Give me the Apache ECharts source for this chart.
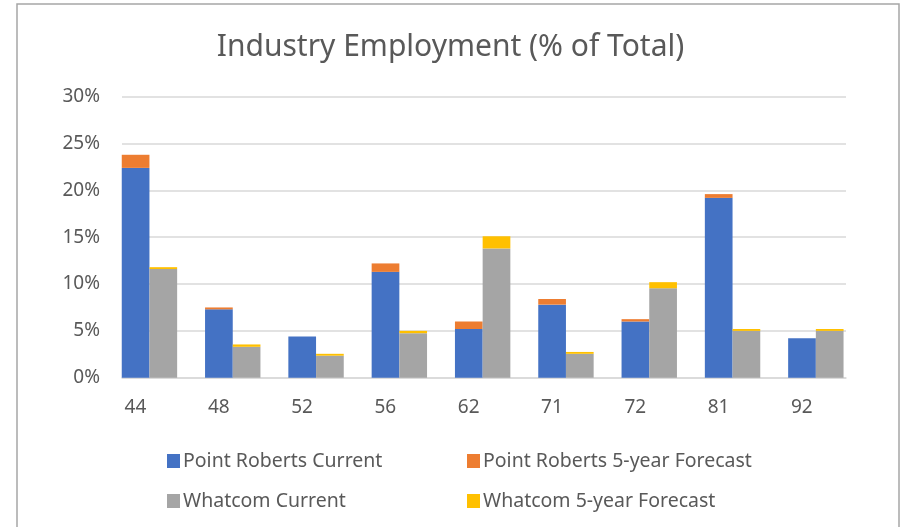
<!DOCTYPE html>
<html>
<head>
<meta charset="utf-8">
<script src="https://cdn.jsdelivr.net/npm/echarts@6/dist/echarts.min.js"></script>
<style>
  html, body { margin: 0; padding: 0; background: #fff; }
  #chart { width: 901px; height: 527px; }
</style>
</head>
<body>
<div id="chart"></div>
<script>
// industry codes (NAICS)
const categories = ['44', '48', '52', '56', '62', '71', '72', '81', '92']
// % of total employment
const prCurrent = [22.4, 7.3, 4.4, 11.3, 5.2, 7.8, 6.0, 19.2, 4.2]
const prForecast = [1.4, 0.2, 0, 0.9, 0.8, 0.6, 0.25, 0.4, 0] // added on top of current
const wcCurrent = [11.6, 3.3, 2.35, 4.75, 13.8, 2.55, 9.55, 5.0, 5.0]
const wcForecast = [0.2, 0.25, 0.2, 0.25, 1.3, 0.2, 0.65, 0.2, 0.2]
const yTicks = { min: 0, max: 30, interval: 5 }

const font = 'Noto Sans'
const textColor = '#595959'

const chart = echarts.init(document.getElementById('chart'))

const barOpts = {
  type: 'bar',
  xAxisIndex: 1,
  yAxisIndex: 1,
  barWidth: 27.7,
  barGap: '0%',
}

// one legend per entry so the two columns line up like Excel's
const legendItem = (name, left, top) => ({
  data: [name],
  left,
  top,
  itemWidth: 13,
  itemHeight: 14,
  itemGap: 0,
  icon: 'rect',
  textStyle: { fontFamily: font, fontSize: 19.5, color: textColor, padding: [0, 0, 0, -2] },
})

const option = {
  animation: false,
  backgroundColor: '#fff',
  title: {
    text: 'Industry Employment (% of Total)',
    left: 'center',
    top: 27,
    textStyle: { fontFamily: font, fontSize: 30, fontWeight: 'normal', color: textColor },
  },
  graphic: [
    {
      type: 'rect',
      shape: { x: 17, y: 4, width: 882, height: 540 },
      style: { fill: 'none', stroke: '#a6a6a6', lineWidth: 1.5 },
      silent: true,
    },
  ],
  legend: [
    legendItem('Point Roberts Current', 162, 446),
    legendItem('Point Roberts 5-year Forecast', 462, 446),
    legendItem('Whatcom Current', 162, 486),
    legendItem('Whatcom 5-year Forecast', 462, 486),
  ],
  grid: [
    // gridlines + y labels
    { left: 122, right: 55, top: 96.7, height: 281 },
    // bars (Excel places groups offset from the gridline area)
    { left: 107.8, right: 43.5, top: 96.7, height: 281 },
  ],
  xAxis: [
    {
      type: 'category',
      gridIndex: 0,
      data: categories,
      axisLine: { lineStyle: { color: '#d9d9d9', width: 1.5 } },
      axisTick: { show: false },
      axisLabel: { show: false },
    },
    {
      type: 'category',
      gridIndex: 1,
      data: categories,
      axisLine: { show: false },
      axisTick: { show: false },
      axisLabel: {
        fontFamily: font,
        fontSize: 19,
        color: textColor,
        margin: 20,
        padding: [0, 28, 0, 0],
      },
    },
  ],
  yAxis: [
    {
      type: 'value',
      gridIndex: 0,
      ...yTicks,
      axisLabel: { formatter: '{value}%', fontFamily: font, fontSize: 19, color: textColor, margin: 22 },
      splitLine: { lineStyle: { color: '#d9d9d9', width: 1.5 } },
      axisLine: { show: false },
      axisTick: { show: false },
    },
    {
      type: 'value',
      gridIndex: 1,
      ...yTicks,
      show: false,
      splitLine: { show: false },
    },
  ],
  series: [
    { ...barOpts, name: 'Point Roberts Current', stack: 'pr', data: prCurrent, itemStyle: { color: '#4472C4' } },
    { ...barOpts, name: 'Point Roberts 5-year Forecast', stack: 'pr', data: prForecast, itemStyle: { color: '#ED7D31' } },
    { ...barOpts, name: 'Whatcom Current', stack: 'wc', data: wcCurrent, itemStyle: { color: '#A5A5A5' } },
    { ...barOpts, name: 'Whatcom 5-year Forecast', stack: 'wc', data: wcForecast, itemStyle: { color: '#FFC000' } },
  ],
}

chart.setOption(option)
</script>
</body>
</html>
